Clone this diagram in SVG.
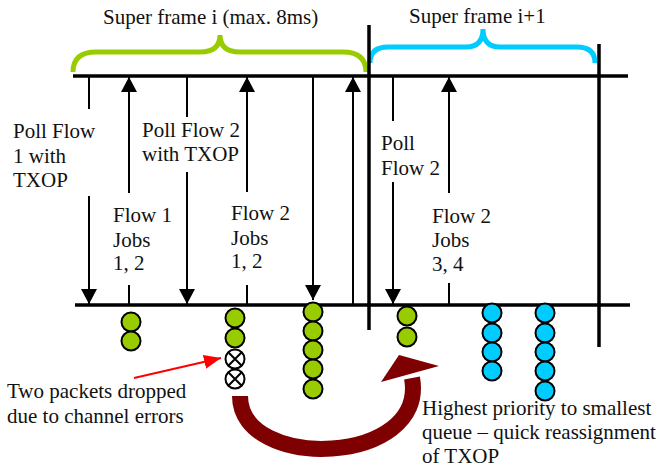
<svg xmlns="http://www.w3.org/2000/svg" width="660" height="469" viewBox="0 0 660 469">
<defs>
<style>
text{font-family:'Liberation Serif','Times New Roman',serif;font-size:21px;fill:#111}
.thin{stroke:#000;stroke-width:2;fill:none}
.bold{stroke:#000;stroke-width:3.5;fill:none}
.arr{stroke:#000;stroke-width:2;fill:none;marker-end:url(#ah)}
.g{fill:#99CC00;stroke:#000;stroke-width:2}
.b{fill:#00CCFF;stroke:#000;stroke-width:2}
.x{fill:#fff;stroke:#000;stroke-width:2}
</style>
<marker id="ah" markerUnits="userSpaceOnUse" markerWidth="16" markerHeight="16" refX="15" refY="8" orient="auto">
<path d="M0,0 L15,8 L0,16 z" fill="#000"/>
</marker>
<marker id="rh" markerUnits="userSpaceOnUse" markerWidth="18" markerHeight="14" refX="17" refY="7" orient="auto">
<path d="M0,0 L17,7 L0,14 z" fill="#FF0000"/>
</marker>
</defs>

<g id="braces">
<path d="M73 72 Q73 52 96 52 L200 52 Q220 52 220 35 Q220 52 240 52 L343 52 Q366 52 366 72" fill="none" stroke="#99CC00" stroke-width="5"/>
<path d="M370 63 Q370 47 388 47 L466 47 Q483 47 483 29 Q483 47 500 47 L577 47 Q595 47 595 63" fill="none" stroke="#00CCFF" stroke-width="5"/>
</g>

<g id="titles">
<text x="103" y="24">Super frame i (max. 8ms)</text>
<text x="409" y="23">Super frame i+1</text>
</g>

<g id="timeline">
<line class="bold" x1="73" y1="76" x2="628" y2="76"/>
<line class="bold" x1="75" y1="305" x2="630" y2="305"/>
<line class="bold" x1="369" y1="25" x2="369" y2="330"/>
<line class="bold" x1="599" y1="44" x2="599" y2="347"/>
</g>

<g id="connectors">
<line class="thin" x1="89" y1="77" x2="89" y2="109"/>
<line class="arr" x1="89" y1="196" x2="89" y2="304"/>
<line class="arr" x1="129" y1="193" x2="129" y2="77"/>
<line class="thin" x1="129" y1="285" x2="129" y2="305"/>
<line class="thin" x1="187" y1="77" x2="187" y2="117"/>
<line class="arr" x1="187" y1="172" x2="187" y2="304"/>
<line class="arr" x1="247" y1="192" x2="247" y2="77"/>
<line class="thin" x1="247" y1="285" x2="247" y2="305"/>
<line class="arr" x1="313" y1="77" x2="313" y2="300"/>
<line class="arr" x1="353" y1="304" x2="353" y2="77"/>
<line class="thin" x1="393" y1="77" x2="393" y2="121"/>
<line class="arr" x1="393" y1="182" x2="393" y2="304"/>
<line class="arr" x1="449" y1="193" x2="449" y2="77"/>
<line class="thin" x1="449" y1="283" x2="449" y2="305"/>
<line x1="134" y1="378" x2="221" y2="358" stroke="#FF0000" stroke-width="2" marker-end="url(#rh)"/>
<path d="M240 396 C240 472 428 466 412 378" fill="none" stroke="#7F0000" stroke-width="16"/>
<polygon points="399,355 381,382 439,366" fill="#7F0000"/>
</g>

<g id="labels">
<text x="13" y="138">Poll Flow</text>
<text x="13" y="163">1 with</text>
<text x="13" y="187">TXOP</text>
<text x="142" y="137">Poll Flow 2</text>
<text x="142" y="161">with TXOP</text>
<text x="113" y="222">Flow 1</text>
<text x="113" y="247">Jobs</text>
<text x="113" y="270">1, 2</text>
<text x="231" y="220">Flow 2</text>
<text x="231" y="245">Jobs</text>
<text x="231" y="268">1, 2</text>
<text x="381" y="150">Poll</text>
<text x="381" y="175">Flow 2</text>
<text x="432" y="223">Flow 2</text>
<text x="432" y="247">Jobs</text>
<text x="432" y="271">3, 4</text>
<text x="7" y="398">Two packets dropped</text>
<text x="7" y="423">due to channel errors</text>
<text x="422" y="415">Highest priority to smallest</text>
<text x="422" y="439">queue – quick reassignment</text>
<text x="422" y="463">of TXOP</text>
</g>

<g id="queue-flow1">
<circle class="g" cx="131" cy="322" r="9.5"/>
<circle class="g" cx="131" cy="341" r="9.5"/>
</g>
<g id="queue-flow2-a">
<circle class="g" cx="235" cy="318" r="9.5"/>
<circle class="g" cx="235" cy="338" r="9.5"/>
<circle class="x" cx="235" cy="359" r="9.5"/>
<path class="thin" d="M228.3 352.3 L241.7 365.7 M241.7 352.3 L228.3 365.7"/>
<circle class="x" cx="235" cy="379" r="9.5"/>
<path class="thin" d="M228.3 372.3 L241.7 385.7 M241.7 372.3 L228.3 385.7"/>
</g>
<g id="queue-flow2-b">
<circle class="g" cx="313" cy="312" r="9.5"/>
<circle class="g" cx="313" cy="331" r="9.5"/>
<circle class="g" cx="313" cy="350" r="9.5"/>
<circle class="g" cx="313" cy="369" r="9.5"/>
<circle class="g" cx="313" cy="389" r="9.5"/>
</g>
<g id="queue-flow2-c">
<circle class="g" cx="407" cy="316" r="9.5"/>
<circle class="g" cx="407" cy="337" r="9.5"/>
</g>
<g id="queue-blue-1">
<circle class="b" cx="492" cy="313" r="9.5"/>
<circle class="b" cx="492" cy="333" r="9.5"/>
<circle class="b" cx="492" cy="352" r="9.5"/>
<circle class="b" cx="492" cy="371" r="9.5"/>
</g>
<g id="queue-blue-2">
<circle class="b" cx="545" cy="313" r="9.5"/>
<circle class="b" cx="545" cy="333" r="9.5"/>
<circle class="b" cx="545" cy="352" r="9.5"/>
<circle class="b" cx="545" cy="371" r="9.5"/>
<circle class="b" cx="545" cy="391" r="9.5"/>
</g>
</svg>
